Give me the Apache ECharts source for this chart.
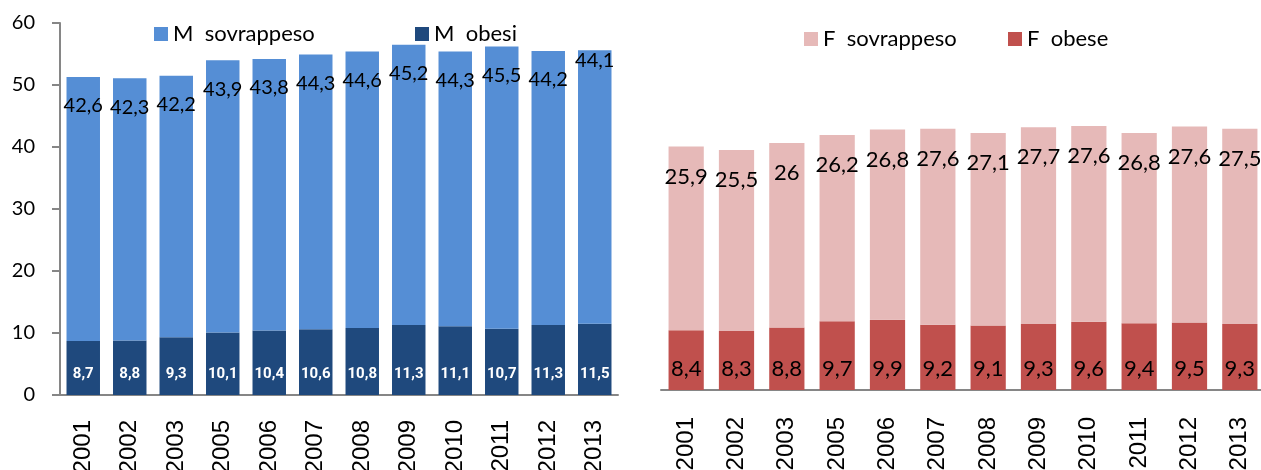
<!DOCTYPE html>
<html>
<head>
<meta charset="utf-8">
<script src="https://cdn.jsdelivr.net/npm/echarts@6/dist/echarts.min.js"></script>
<style>
  html, body { margin: 0; padding: 0; background: #fff; }
  #chart { width: 1261px; height: 470px; }
</style>
</head>
<body>
<div id="chart"></div>
<script>
const years = ["2001", "2002", "2003", "2005", "2006", "2007", "2008", "2009", "2010", "2011", "2012", "2013"];
const mObesi = [8.7, 8.8, 9.3, 10.1, 10.4, 10.6, 10.8, 11.3, 11.1, 10.7, 11.3, 11.5];
const mSovrappeso = [42.6, 42.3, 42.2, 43.9, 43.8, 44.3, 44.6, 45.2, 44.3, 45.5, 44.2, 44.1];
const fObese = [8.4, 8.3, 8.8, 9.7, 9.9, 9.2, 9.1, 9.3, 9.6, 9.4, 9.5, 9.3];
const fSovrappeso = [25.9, 25.5, 26, 26.2, 26.8, 27.6, 27.1, 27.7, 27.6, 26.8, 27.6, 27.5];
const leftTicks = [0, 10, 20, 30, 40, 50, 60];

const chart = echarts.init(document.getElementById("chart"));

const fmt = (p) => String(p.value).replace(".", ",");
const labelFont = "Lato, 'Open Sans', sans-serif";
const yearFont = "'Liberation Sans', Arial, sans-serif";
const axisGrey = "#868686";

// last male label sits higher in the original
const mSovData = mSovrappeso.map((v, i) =>
  i === mSovrappeso.length - 1 ? { value: v, label: { distance: 0 } } : v
);

const legendItem = (name, left, top) => ({
  data: [name],
  left: left,
  top: top,
  itemWidth: 14,
  itemHeight: 14,
  itemGap: 8,
  icon: "rect",
  formatter: (n) => n.replace(" ", "  "),
  textStyle: { fontFamily: labelFont, fontSize: 22, lineHeight: 22, color: "#000" },
  selectedMode: false
});

const yearAxis = (gridIndex, margin) => ({
  type: "category",
  gridIndex: gridIndex,
  data: years,
  axisLine: { lineStyle: { color: axisGrey, width: 2 } },
  axisTick: { show: false },
  axisLabel: {
    interval: 0,
    rotate: 90,
    margin: margin,
    color: "#000",
    fontFamily: yearFont,
    fontSize: 24
  }
});

const option = {
  animation: false,
  legend: [
    legendItem("M sovrappeso", 149, 18),
    legendItem("M obesi", 410, 18),
    legendItem("F sovrappeso", 799, 23),
    legendItem("F obese", 1003, 23)
  ],
  grid: [
    { left: 60, top: 23, width: 558, bottom: 75, containLabel: false, outerBoundsMode: "none" },
    { left: 661, top: 35, width: 604, bottom: 80, containLabel: false, outerBoundsMode: "none" }
  ],
  xAxis: [yearAxis(0, 25), yearAxis(1, 27)],
  yAxis: [
    {
      type: "value",
      gridIndex: 0,
      min: leftTicks[0],
      max: leftTicks[leftTicks.length - 1],
      interval: 10,
      splitLine: { show: false },
      axisLine: { show: true, lineStyle: { color: axisGrey, width: 2 } },
      axisTick: { show: true, length: 8, lineStyle: { color: axisGrey, width: 2 } },
      axisLabel: { margin: 25, color: "#000", fontFamily: labelFont, fontSize: 20 }
    },
    {
      type: "value",
      gridIndex: 1,
      min: 0,
      max: 50,
      show: false,
      splitLine: { show: false }
    }
  ],
  series: [
    {
      name: "M obesi",
      type: "bar",
      stack: "m",
      xAxisIndex: 0,
      yAxisIndex: 0,
      barCategoryGap: "28%",
      data: mObesi,
      itemStyle: { color: "#1F497D" },
      label: {
        show: true,
        position: "insideBottom",
        distance: 13,
        formatter: fmt,
        color: "#fff",
        fontWeight: "bold",
        fontFamily: "'Liberation Sans Narrow', Roboto, sans-serif",
        fontSize: 15
      }
    },
    {
      name: "M sovrappeso",
      type: "bar",
      stack: "m",
      xAxisIndex: 0,
      yAxisIndex: 0,
      barCategoryGap: "28%",
      data: mSovData,
      itemStyle: { color: "#558ED5" },
      label: {
        show: true,
        position: "insideTop",
        distance: 19,
        formatter: fmt,
        color: "#000",
        fontFamily: labelFont,
        fontSize: 20
      }
    },
    {
      name: "F obese",
      type: "bar",
      stack: "f",
      xAxisIndex: 1,
      yAxisIndex: 1,
      barCategoryGap: "30%",
      data: fObese,
      itemStyle: { color: "#C0504D" },
      label: {
        show: true,
        position: "insideBottom",
        distance: 10,
        formatter: fmt,
        color: "#000",
        fontFamily: labelFont,
        fontSize: 22
      }
    },
    {
      name: "F sovrappeso",
      type: "bar",
      stack: "f",
      xAxisIndex: 1,
      yAxisIndex: 1,
      barCategoryGap: "30%",
      data: fSovrappeso,
      itemStyle: { color: "#E6B9B8" },
      label: {
        show: true,
        position: "insideTop",
        distance: 19,
        formatter: fmt,
        color: "#000",
        fontFamily: labelFont,
        fontSize: 22
      }
    }
  ]
};

chart.setOption(option);
</script>
</body>
</html>
